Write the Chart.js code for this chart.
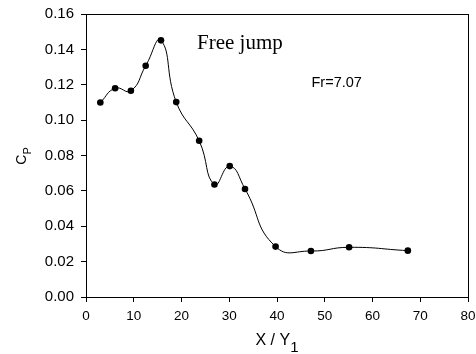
<!DOCTYPE html>
<html>
<head>
<meta charset="utf-8">
<script src="https://cdn.jsdelivr.net/npm/chart.js@4"></script>
<style>
  html, body { margin: 0; padding: 0; background: #fff; }
  #wrap { width: 476px; height: 354px; }
</style>
</head>
<body>
<div id="wrap"><canvas id="cp"></canvas></div>
<script>
const xValues = [3.0, 6.1, 9.4, 12.5, 15.7, 18.9, 23.7, 26.9, 30.1, 33.3, 39.7, 47.1, 55.1, 67.4];
const cpValues = [0.110, 0.118, 0.1166, 0.1307, 0.1451, 0.1102, 0.0883, 0.0636, 0.0740, 0.0611, 0.0285, 0.0260, 0.0281, 0.0262];
const xTicks = [0, 10, 20, 30, 40, 50, 60, 70, 80];
const yTicks = [0, 0.02, 0.04, 0.06, 0.08, 0.10, 0.12, 0.14, 0.16];

const sans = "'Liberation Sans', Arial, sans-serif";
const serif = "'Liberation Serif', 'Times New Roman', serif";

// frame, axis titles with subscripts, and text notes
const extras = {
  id: "extras",
  afterDraw(chart) {
    const { ctx, chartArea: a } = chart;
    ctx.save();
    ctx.strokeStyle = "#000";
    ctx.lineWidth = 1;
    ctx.strokeRect(a.left + 0.5, a.top + 0.5, a.right - a.left, a.bottom - a.top);

    ctx.fillStyle = "#000";
    ctx.textBaseline = "alphabetic";
    ctx.textAlign = "left";

    // x title: X / Y1
    ctx.font = "16px " + sans;
    const w1 = ctx.measureText("X / Y").width;
    ctx.font = "15px " + sans;
    const w2 = ctx.measureText("1").width;
    const x0 = (a.left + a.right) / 2 - (w1 + w2) / 2;
    ctx.font = "16px " + sans;
    ctx.fillText("X / Y", x0, 345);
    ctx.font = "15px " + sans;
    ctx.fillText("1", x0 + w1, 352);

    // y title: Cp rotated
    ctx.translate(25.5, 156);
    ctx.rotate(-Math.PI / 2);
    ctx.font = "14px " + sans;
    const wc = ctx.measureText("C").width;
    ctx.font = "11px " + sans;
    const wp = ctx.measureText("P").width;
    const sx = -(wc + wp) / 2;
    ctx.font = "14px " + sans;
    ctx.fillText("C", sx, 0);
    ctx.font = "11px " + sans;
    ctx.fillText("P", sx + wc, 5);
    ctx.restore();

    ctx.save();
    ctx.fillStyle = "#000";
    ctx.textAlign = "left";
    ctx.textBaseline = "alphabetic";
    ctx.font = "21px " + serif;
    ctx.fillText("Free jump", 197, 49);
    ctx.font = "14.5px " + sans;
    ctx.fillText("Fr=7.07", 311.5, 87);
    ctx.restore();
  }
};

new Chart(document.getElementById("cp").getContext("2d"), {
  type: "scatter",
  data: {
    datasets: [
      {
        data: xValues.map((x, i) => ({ x: x, y: cpValues[i] })),
        showLine: true,
        borderColor: "#000",
        borderWidth: 1,
        tension: 0.5,
        pointRadius: 3.3,
        pointBackgroundColor: "#000",
        pointBorderColor: "#000",
        pointBorderWidth: 0,
      },
    ],
  },
  options: {
    responsive: true,
    maintainAspectRatio: false,
    animation: false,
    layout: { padding: { left: 0, top: 14, right: 8, bottom: 0 } },
    plugins: {
      legend: { display: false },
      tooltip: { enabled: false },
    },
    scales: {
      x: {
        type: "linear",
        min: 0,
        max: 80,
        afterBuildTicks: (s) => { s.ticks = xTicks.map((v) => ({ value: v })); },
        afterFit: (s) => { s.height = 57; s.paddingRight = 0; s.paddingLeft = 0; },
        grid: { drawOnChartArea: false, tickLength: 5, color: "#000" },
        border: { color: "#000", width: 1 },
        ticks: {
          color: "#000",
          padding: 6,
          maxRotation: 0,
          font: { family: sans, size: 13.5 },
        },
      },
      y: {
        min: 0,
        max: 0.16,
        afterBuildTicks: (s) => { s.ticks = yTicks.map((v) => ({ value: v })); },
        afterFit: (s) => { s.width = 86; s.paddingTop = 0; s.paddingBottom = 0; },
        grid: { drawOnChartArea: false, tickLength: 5, color: "#000" },
        border: { color: "#000", width: 1 },
        ticks: {
          color: "#000",
          padding: 7,
          font: { family: sans, size: 15 },
          callback: (v) => v.toFixed(2),
        },
      },
    },
  },
  plugins: [extras],
});
</script>
</body>
</html>
